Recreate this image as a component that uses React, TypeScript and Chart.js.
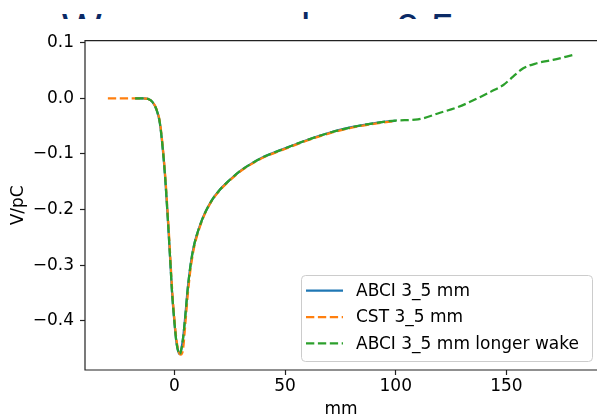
import React, { useEffect, useRef } from 'react';
import { Chart, registerables } from 'chart.js';

Chart.register(...registerables);

// ---- data ----
const S_ABCI = [-17.7, -14, -12, -10, -8, -6.5, -5, -4, -3, -2, -1, 0, 1, 2, 2.5, 3, 4, 5, 6, 7, 8, 9, 10, 12, 14, 17, 20, 25, 30, 35, 40, 50, 60, 70, 80, 90, 100];
const V_ABCI = [0, 0, -0.001, -0.006, -0.021, -0.045, -0.1, -0.15, -0.212, -0.28, -0.35, -0.4, -0.44, -0.458, -0.46, -0.455, -0.43, -0.39, -0.345, -0.31, -0.283, -0.263, -0.248, -0.224, -0.205, -0.183, -0.167, -0.147, -0.13, -0.117, -0.106, -0.09, -0.075, -0.062, -0.052, -0.045, -0.04];

const S_CST = [-30, -25, -20, -16, -14, -12, -10, -8, -6.5, -5, -4, -3, -2, -1, 0, 1, 2, 3, 3.5, 4, 5, 6, 7, 8, 9, 10, 12, 14, 17, 20, 25, 30, 35, 40, 50, 60, 70, 80, 90, 100];
const V_CST = [0, 0, 0, 0, 0, -0.001, -0.006, -0.02, -0.043, -0.096, -0.145, -0.205, -0.272, -0.342, -0.395, -0.435, -0.456, -0.461, -0.459, -0.45, -0.405, -0.357, -0.318, -0.289, -0.267, -0.251, -0.226, -0.206, -0.184, -0.168, -0.148, -0.131, -0.118, -0.107, -0.091, -0.076, -0.063, -0.053, -0.046, -0.041];

const S_LONG = [-17.7, -14, -12, -10, -8, -6.5, -5, -4, -3, -2, -1, 0, 1, 2, 2.5, 3, 4, 5, 6, 7, 8, 9, 10, 12, 14, 17, 20, 25, 30, 35, 40, 50, 60, 70, 80, 90, 100, 110, 120, 128, 138, 143, 148.6, 153, 157.6, 163.7, 171, 180.2];
const V_LONG = [0, 0, -0.001, -0.006, -0.021, -0.045, -0.1, -0.15, -0.212, -0.28, -0.35, -0.4, -0.44, -0.458, -0.46, -0.455, -0.43, -0.39, -0.345, -0.31, -0.283, -0.263, -0.248, -0.224, -0.205, -0.183, -0.167, -0.147, -0.13, -0.117, -0.106, -0.09, -0.075, -0.062, -0.052, -0.045, -0.04, -0.038, -0.026, -0.016, 0.002, 0.012, 0.024, 0.039, 0.054, 0.063, 0.069, 0.078];

const SERIES_LABELS = ['ABCI 3_5 mm', 'CST 3_5 mm', 'ABCI 3_5 mm longer wake'];
const X_TICKS = [0, 50, 100, 150];
const Y_TICKS = [-0.4, -0.3, -0.2, -0.1, 0.0, 0.1];
const X_RANGE = [-40.33, 190.9];
const Y_RANGE = [-0.4887, 0.1036];
const X_TITLE = 'mm';
const Y_TITLE = 'V/pC';

const FONT = { family: '"DejaVu Sans"', size: 17 };
const COLORS = ['#1f77b4', '#ff7f0e', '#2ca02c'];
const DASH = [8.3, 3.6];

const toPts = (xs: number[], ys: number[]) => xs.map((x, i) => ({ x, y: ys[i] }));
const fmtY = (v: number) => (Math.abs(v) < 1e-9 ? '0.0' : v.toFixed(1)).replace('-', '\u2212');

const framePlugin = {
  id: 'mplFrame',
  afterDatasetsDraw(chart: any) {
    const { ctx, chartArea: a } = chart;
    ctx.save();
    ctx.strokeStyle = '#222';
    ctx.lineWidth = 1.2;
    ctx.beginPath();
    ctx.moveTo(a.right + 10, a.top);
    ctx.lineTo(a.left, a.top);
    ctx.lineTo(a.left, a.bottom);
    ctx.lineTo(a.right + 10, a.bottom);
    ctx.stroke();
    ctx.restore();
  },
};

const legendPlugin = {
  id: 'mplLegend',
  afterDraw(chart: any) {
    const { ctx, chartArea: a } = chart;
    const w = 291, h = 86;
    const x0 = a.right - 5 - w;
    const y0 = a.bottom - 9 - h;
    ctx.save();
    ctx.beginPath();
    ctx.roundRect(x0 + 0.5, y0 + 0.5, w, h, 4);
    ctx.fillStyle = 'rgba(255,255,255,0.8)';
    ctx.fill();
    ctx.strokeStyle = '#cccccc';
    ctx.lineWidth = 1;
    ctx.stroke();
    ctx.font = `${FONT.size}px ${FONT.family}`;
    ctx.textBaseline = 'middle';
    chart.data.datasets.forEach((ds: any, i: number) => {
      const cy = y0 + 15.7 + i * 26.3;
      ctx.beginPath();
      ctx.strokeStyle = ds.borderColor;
      ctx.lineWidth = ds.borderWidth;
      ctx.setLineDash(ds.borderDash || []);
      ctx.moveTo(x0 + 5, cy);
      ctx.lineTo(x0 + 42, cy);
      ctx.stroke();
      ctx.setLineDash([]);
      ctx.fillStyle = '#000';
      ctx.fillText(ds.label, x0 + 55, cy + 1);
    });
    ctx.restore();
  },
};

export default function App() {
  const ref = useRef<HTMLCanvasElement | null>(null);

  useEffect(() => {
    if (!ref.current) return;
    const chart = new Chart(ref.current, {
      type: 'line',
      data: {
        datasets: [
          { label: SERIES_LABELS[0], data: toPts(S_ABCI, V_ABCI), borderColor: COLORS[0], borderWidth: 2.25, pointRadius: 0, cubicInterpolationMode: 'monotone', order: 2 },
          { label: SERIES_LABELS[1], data: toPts(S_CST, V_CST), borderColor: COLORS[1], borderWidth: 2.25, borderDash: DASH, pointRadius: 0, cubicInterpolationMode: 'monotone', order: 1 },
          { label: SERIES_LABELS[2], data: toPts(S_LONG, V_LONG), borderColor: COLORS[2], borderWidth: 2.25, borderDash: DASH, pointRadius: 0, cubicInterpolationMode: 'monotone', order: 0 },
        ],
      },
      options: {
        responsive: false,
        animation: false,
        events: [],
        layout: { padding: { top: 40.7, left: 0, right: 0, bottom: 0 } },
        plugins: { legend: { display: false }, tooltip: { enabled: false } },
        scales: {
          x: {
            type: 'linear',
            min: X_RANGE[0],
            max: X_RANGE[1],
            afterBuildTicks: (s: any) => { s.ticks = X_TICKS.map((v) => ({ value: v })); },
            afterFit: (s: any) => { s.height = 50; },
            ticks: { font: FONT, color: '#000', padding: 1.8, maxRotation: 0, callback: (v: any) => String(v) },
            grid: { drawOnChartArea: false, drawTicks: true, tickLength: 5, tickWidth: 1.2, tickColor: '#222' },
            border: { display: false },
            title: { display: true, text: X_TITLE, font: FONT, color: '#000', padding: { top: 0, bottom: 0.7 } },
          },
          y: {
            type: 'linear',
            min: Y_RANGE[0],
            max: Y_RANGE[1],
            afterBuildTicks: (s: any) => { s.ticks = Y_TICKS.map((v) => ({ value: v })); },
            afterFit: (s: any) => { s.width = 85; },
            ticks: { font: FONT, color: '#000', padding: 6, callback: (v: any) => fmtY(Number(v)) },
            grid: { drawOnChartArea: false, drawTicks: true, tickLength: 5, tickWidth: 1.2, tickColor: '#222' },
            border: { display: false },
            title: { display: true, text: Y_TITLE, font: FONT, color: '#000', padding: { top: 8.8, bottom: 0 } },
          },
        },
      },
      plugins: [framePlugin, legendPlugin],
    } as any);
    return () => chart.destroy();
  }, []);

  const titleFont: React.CSSProperties = {
    position: 'absolute',
    top: 7.5,
    fontFamily: '"Liberation Sans"',
    fontSize: 42,
    lineHeight: '42px',
    color: '#0b2a66',
    whiteSpace: 'pre',
  };

  return (
    <div style={{ position: 'absolute', left: 0, top: 0, width: 597, height: 416, overflow: 'hidden', background: '#fff' }}>
      <div style={{ position: 'absolute', left: 0, top: 0, width: 597, height: 19, overflow: 'hidden' }}>
        <span style={{ ...titleFont, left: 62 }}>Wave range</span>
        <span style={{ ...titleFont, left: 301 }}>l =</span>
        <span style={{ ...titleFont, left: 396 }}>0.5 mm</span>
      </div>
      <canvas ref={ref} width={597} height={420} style={{ position: 'absolute', left: 0, top: 0, width: 597, height: 420 }} />
    </div>
  );
}
